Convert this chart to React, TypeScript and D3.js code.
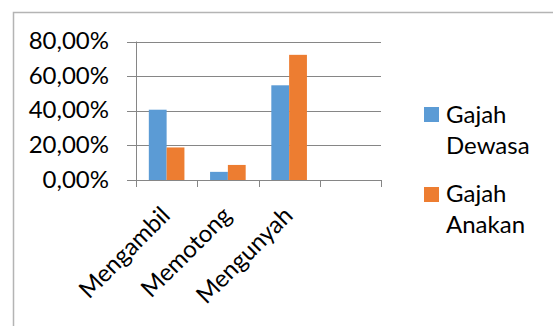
import React from "react";
import * as d3 from "d3";

const categories = ["Mengambil", "Memotong", "Mengunyah", ""];
const seriesNames = ["Gajah Dewasa", "Gajah Anakan"];
const dewasa = [0.406, 0.047, 0.547, null];
const anakan = [0.188, 0.087, 0.723, null];
const yTicks = [0, 0.2, 0.4, 0.6, 0.8];
const colors = ["#5B9BD5", "#ED7D31"];
const legendLines = [["Gajah", "Dewasa"], ["Gajah", "Anakan"]];

export default function App() {
  const W = 553, H = 326;
  const left = 136, right = 381, top = 41.5, bottom = 180;
  const x = d3.scaleBand<string>().domain(categories.map((c, i) => String(i))).range([left, right]).paddingInner(0).paddingOuter(0);
  const inner = d3.scaleBand<number>().domain([0, 1]).range([0, x.bandwidth()]).paddingInner(0).paddingOuter(0.72);
  const y = d3.scaleLinear().domain([0, 0.8]).range([bottom, top]);
  const fmt = (v: number) => (v * 100).toFixed(2).replace(".", ",") + "%";
  const font = "Lato, 'Open Sans', sans-serif";
  const series = [dewasa, anakan];
  const boundaries = d3.range(categories.length + 1).map(i => left + i * x.step());
  const fs = 24;
  return (
    <svg width={W} height={H} style={{ position: "absolute", left: 0, top: 0, background: "#fff" }} fontFamily={font}>
      <rect x={13.5} y={12.5} width={560} height={330} fill="#fff" stroke="#B4B4B4" strokeWidth={1.5} />
      {yTicks.map(t => (
        <g key={t}>
          <line x1={127} x2={right} y1={Math.round(y(t)) + 0.5} y2={Math.round(y(t)) + 0.5} stroke="#868686" strokeWidth={1} />
          <text x={109} y={y(t) + 7.5} textAnchor="end" fontSize={fs} fill="#000">{fmt(t)}</text>
        </g>
      ))}
      <line x1={left + 0.5} x2={left + 0.5} y1={top} y2={bottom + 7} stroke="#868686" />
      {boundaries.map((b, i) => (
        <line key={i} x1={Math.round(b) + 0.5} x2={Math.round(b) + 0.5} y1={bottom} y2={bottom + 7} stroke="#868686" />
      ))}
      {series.map((s, si) => (
        <g key={si}>
          {s.map((v, ci) => v == null ? null : (
            <rect key={ci}
              x={(x(String(ci)) as number) + (inner(si) as number)}
              y={y(v)}
              width={inner.bandwidth()}
              height={bottom - y(v)}
              fill={colors[si]} />
          ))}
        </g>
      ))}
      {categories.map((c, i) => c ? (
        <text key={i} textAnchor="end" fontSize={fs} fill="#000"
          transform={`translate(${(x(String(i)) as number) + x.bandwidth() / 2 + 5},${bottom + 37}) rotate(-45)`}>{c}</text>
      ) : null)}
      {legendLines.map((lines, i) => (
        <g key={i}>
          <rect x={424} y={107 + i * 80} width={15} height={15} fill={colors[i]} />
          {lines.map((l, j) => (
            <text key={j} x={446} y={122.7 + i * 79 + j * 31.5} fontSize={fs} fill="#000">{l}</text>
          ))}
        </g>
      ))}
    </svg>
  );
}
